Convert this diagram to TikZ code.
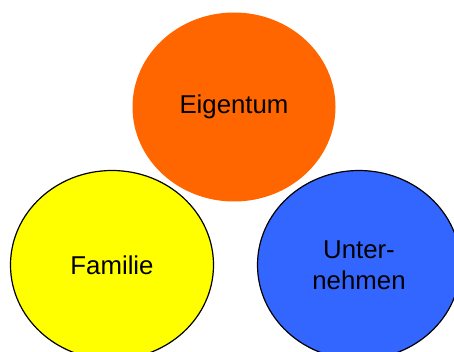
\documentclass[tikz,border=0pt]{standalone}
\usepackage{fontspec}
\setmainfont{Liberation Sans}
\usepackage{tikz}
\usetikzlibrary{shapes.geometric,positioning}

\definecolor{eigorange}{HTML}{FF6600}
\definecolor{famyellow}{HTML}{FFFF00}
\definecolor{untblue}{HTML}{3366FF}

\begin{document}
\begin{tikzpicture}[x=1pt, y=-1pt,
  font=\fontsize{25.8}{31}\selectfont,
  circ/.style={ellipse, align=center, inner sep=0pt,
    minimum width=203pt, minimum height=189pt},
  ring/.style={circ, draw=black, line width=1.2pt}]
\useasboundingbox (0,0) rectangle (454,352);
\node[circ, fill=eigorange] (eig) at (234,107) {Eigentum};
\node[ring, fill=famyellow] (fam) at (112,265) {Familie};
\node[ring, fill=untblue] (unt) at (359,265) {Unter-\\nehmen};
\end{tikzpicture}
\end{document}
